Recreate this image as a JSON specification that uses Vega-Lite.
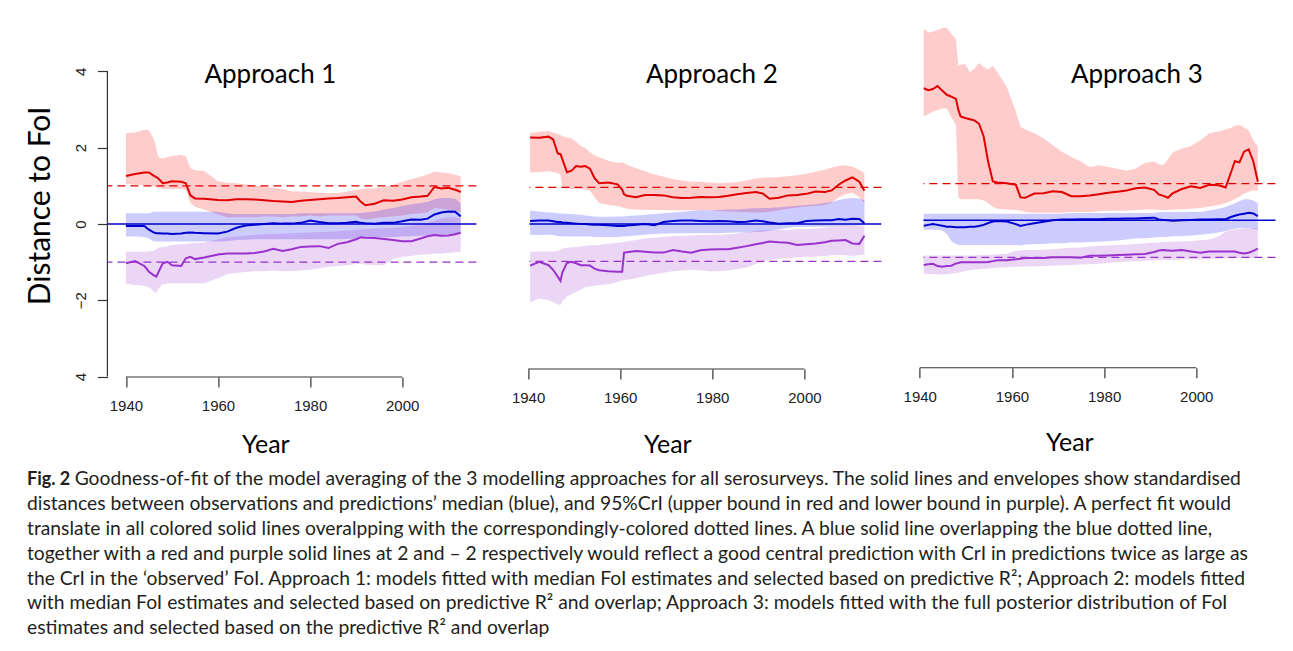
{
  "$schema": "https://vega.github.io/schema/vega-lite/v6.json",
  "background": "white",
  "padding": {"left": 25.4, "top": 20, "right": 5, "bottom": 5},
  "config": {"view": {"stroke": null}, "axis": {"grid": false, "labelFlush": false}},
  "title": {
    "text": "Fig. 2",
    "subtitle": [
      "\u200b\u00a0\u00a0\u00a0\u00a0\u00a0\u00a0\u00a0\u00a0\u00a0\u2006Goodness-of-fit of the model averaging of the 3 modelling approaches for all serosurveys. The solid lines and envelopes show standardised",
      "distances between observations and predictions’ median (blue), and 95%CrI (upper bound in red and lower bound in purple). A perfect fit would",
      "translate in all colored solid lines overalpping with the correspondingly-colored dotted lines. A blue solid line overlapping the blue dotted line,",
      "together with a red and purple solid lines at 2 and – 2 respectively would reflect a good central prediction with CrI in predictions twice as large as",
      "the CrI in the ‘observed’ FoI. Approach 1: models fitted with median FoI estimates and selected based on predictive R²; Approach 2: models fitted",
      "with median FoI estimates and selected based on predictive R² and overlap; Approach 3: models fitted with the full posterior distribution of FoI",
      "estimates and selected based on the predictive R² and overlap"
    ],
    "orient": "bottom", "anchor": "start", "frame": "bounds", "offset": 11, "dx": 1.6,
    "font": "Lato", "fontSize": 18, "fontWeight": "bold", "color": "#231f20",
    "subtitleFont": "Lato", "subtitleFontSize": 19.3, "subtitleColor": "#231f20",
    "subtitleLineHeight": 24.9, "subtitlePadding": -19
  },
  "datasets": {
    "p1": [
      {"yr":1940,"rm":1.26,"rl":1.05,"rh":2.38,"bm":-0.05,"bl":-0.33,"bh":0.28,"pm":-1.03,"pl":-1.56,"ph":-0.73},
      {"yr":1942,"rm":1.31,"rl":1.03,"rh":2.40,"bm":-0.05,"bl":-0.33,"bh":0.28,"pm":-0.97,"pl":-1.60,"ph":-0.73},
      {"yr":1944,"rm":1.35,"rl":1.02,"rh":2.47,"bm":-0.05,"bl":-0.34,"bh":0.28,"pm":-1.10,"pl":-1.62,"ph":-0.73},
      {"yr":1945,"rm":1.35,"rl":1.00,"rh":2.46,"bm":-0.15,"bl":-0.38,"bh":0.28,"pm":-1.25,"pl":-1.66,"ph":-0.72},
      {"yr":1946,"rm":1.27,"rl":0.98,"rh":2.25,"bm":-0.22,"bl":-0.45,"bh":0.32,"pm":-1.34,"pl":-1.76,"ph":-0.70},
      {"yr":1946.6,"rm":1.23,"rl":0.96,"rh":2.00,"bm":-0.24,"bl":-0.46,"bh":0.32,"pm":-1.38,"pl":-1.82,"ph":-0.66},
      {"yr":1947,"rm":1.20,"rl":0.95,"rh":1.75,"bm":-0.24,"bl":-0.46,"bh":0.32,"pm":-1.28,"pl":-1.70,"ph":-0.62},
      {"yr":1948,"rm":1.07,"rl":0.92,"rh":1.72,"bm":-0.25,"bl":-0.46,"bh":0.32,"pm":-1.03,"pl":-1.58,"ph":-0.60},
      {"yr":1949,"rm":1.09,"rl":0.92,"rh":1.75,"bm":-0.25,"bl":-0.46,"bh":0.32,"pm":-0.99,"pl":-1.56,"ph":-0.58},
      {"yr":1950,"rm":1.12,"rl":0.92,"rh":1.78,"bm":-0.26,"bl":-0.46,"bh":0.32,"pm":-1.08,"pl":-1.55,"ph":-0.55},
      {"yr":1952,"rm":1.11,"rl":0.92,"rh":1.81,"bm":-0.25,"bl":-0.46,"bh":0.32,"pm":-1.10,"pl":-1.55,"ph":-0.53},
      {"yr":1953,"rm":1.07,"rl":0.90,"rh":1.78,"bm":-0.23,"bl":-0.46,"bh":0.32,"pm":-0.90,"pl":-1.55,"ph":-0.52},
      {"yr":1954,"rm":0.75,"rl":0.55,"rh":1.46,"bm":-0.22,"bl":-0.46,"bh":0.32,"pm":-0.86,"pl":-1.55,"ph":-0.51},
      {"yr":1955,"rm":0.67,"rl":0.45,"rh":1.41,"bm":-0.23,"bl":-0.46,"bh":0.32,"pm":-0.92,"pl":-1.55,"ph":-0.50},
      {"yr":1957,"rm":0.66,"rl":0.38,"rh":1.39,"bm":-0.24,"bl":-0.46,"bh":0.32,"pm":-0.88,"pl":-1.55,"ph":-0.49},
      {"yr":1960,"rm":0.63,"rl":0.25,"rh":1.12,"bm":-0.25,"bl":-0.46,"bh":0.32,"pm":-0.80,"pl":-1.42,"ph":-0.40},
      {"yr":1962,"rm":0.62,"rl":0.18,"rh":1.08,"bm":-0.20,"bl":-0.45,"bh":0.28,"pm":-0.77,"pl":-1.32,"ph":-0.35},
      {"yr":1964,"rm":0.65,"rl":0.18,"rh":1.07,"bm":-0.10,"bl":-0.42,"bh":0.26,"pm":-0.77,"pl":-1.28,"ph":-0.33},
      {"yr":1966,"rm":0.65,"rl":0.18,"rh":1.04,"bm":-0.04,"bl":-0.41,"bh":0.26,"pm":-0.77,"pl":-1.26,"ph":-0.31},
      {"yr":1968,"rm":0.64,"rl":0.18,"rh":1.01,"bm":-0.02,"bl":-0.40,"bh":0.26,"pm":-0.76,"pl":-1.24,"ph":-0.29},
      {"yr":1970,"rm":0.62,"rl":0.20,"rh":0.98,"bm":0.00,"bl":-0.40,"bh":0.26,"pm":-0.72,"pl":-1.24,"ph":-0.27},
      {"yr":1972,"rm":0.60,"rl":0.20,"rh":0.95,"bm":0.02,"bl":-0.40,"bh":0.26,"pm":-0.65,"pl":-1.22,"ph":-0.26},
      {"yr":1974,"rm":0.59,"rl":0.18,"rh":0.92,"bm":0.01,"bl":-0.40,"bh":0.26,"pm":-0.71,"pl":-1.24,"ph":-0.25},
      {"yr":1976,"rm":0.58,"rl":0.20,"rh":0.86,"bm":0.01,"bl":-0.40,"bh":0.26,"pm":-0.66,"pl":-1.24,"ph":-0.24},
      {"yr":1978,"rm":0.61,"rl":0.20,"rh":0.85,"bm":0.03,"bl":-0.40,"bh":0.28,"pm":-0.60,"pl":-1.22,"ph":-0.23},
      {"yr":1980,"rm":0.63,"rl":0.22,"rh":0.84,"bm":0.09,"bl":-0.40,"bh":0.28,"pm":-0.59,"pl":-1.20,"ph":-0.22},
      {"yr":1982,"rm":0.65,"rl":0.20,"rh":0.82,"bm":0.05,"bl":-0.40,"bh":0.28,"pm":-0.58,"pl":-1.16,"ph":-0.21},
      {"yr":1984,"rm":0.67,"rl":0.22,"rh":0.81,"bm":0.02,"bl":-0.40,"bh":0.28,"pm":-0.63,"pl":-1.12,"ph":-0.20},
      {"yr":1986,"rm":0.68,"rl":0.22,"rh":0.81,"bm":0.02,"bl":-0.40,"bh":0.28,"pm":-0.52,"pl":-1.10,"ph":-0.19},
      {"yr":1988,"rm":0.70,"rl":0.22,"rh":0.85,"bm":0.03,"bl":-0.39,"bh":0.28,"pm":-0.48,"pl":-1.08,"ph":-0.17},
      {"yr":1990,"rm":0.72,"rl":0.22,"rh":0.89,"bm":0.06,"bl":-0.38,"bh":0.28,"pm":-0.40,"pl":-1.05,"ph":-0.15},
      {"yr":1991,"rm":0.58,"rl":0.15,"rh":0.91,"bm":0.03,"bl":-0.37,"bh":0.29,"pm":-0.35,"pl":-1.05,"ph":-0.14},
      {"yr":1992,"rm":0.49,"rl":0.12,"rh":0.93,"bm":0.02,"bl":-0.36,"bh":0.30,"pm":-0.36,"pl":-1.06,"ph":-0.13},
      {"yr":1994,"rm":0.53,"rl":0.15,"rh":0.94,"bm":0.01,"bl":-0.35,"bh":0.33,"pm":-0.37,"pl":-1.08,"ph":-0.12},
      {"yr":1996,"rm":0.62,"rl":0.18,"rh":0.97,"bm":0.03,"bl":-0.35,"bh":0.38,"pm":-0.39,"pl":-1.08,"ph":-0.11},
      {"yr":1998,"rm":0.61,"rl":0.20,"rh":1.02,"bm":0.03,"bl":-0.34,"bh":0.42,"pm":-0.42,"pl":-0.92,"ph":-0.10},
      {"yr":2000,"rm":0.64,"rl":0.22,"rh":1.11,"bm":0.07,"bl":-0.33,"bh":0.47,"pm":-0.45,"pl":-0.86,"ph":-0.08},
      {"yr":2002,"rm":0.70,"rl":0.26,"rh":1.18,"bm":0.12,"bl":-0.32,"bh":0.52,"pm":-0.45,"pl":-0.84,"ph":-0.05},
      {"yr":2004,"rm":0.72,"rl":0.28,"rh":1.24,"bm":0.11,"bl":-0.31,"bh":0.55,"pm":-0.38,"pl":-0.80,"ph":-0.02},
      {"yr":2005.5,"rm":0.74,"rl":0.30,"rh":1.30,"bm":0.14,"bl":-0.30,"bh":0.58,"pm":-0.32,"pl":-0.80,"ph":0.02},
      {"yr":2007,"rm":0.97,"rl":0.42,"rh":1.37,"bm":0.25,"bl":-0.29,"bh":0.65,"pm":-0.29,"pl":-0.78,"ph":0.10},
      {"yr":2008.5,"rm":0.93,"rl":0.40,"rh":1.35,"bm":0.30,"bl":-0.28,"bh":0.68,"pm":-0.31,"pl":-0.77,"ph":0.15},
      {"yr":2010,"rm":0.95,"rl":0.38,"rh":1.33,"bm":0.33,"bl":-0.27,"bh":0.68,"pm":-0.30,"pl":-0.76,"ph":0.18},
      {"yr":2011.5,"rm":0.90,"rl":0.35,"rh":1.29,"bm":0.32,"bl":-0.26,"bh":0.66,"pm":-0.27,"pl":-0.74,"ph":0.18},
      {"yr":2012.7,"rm":0.84,"rl":0.32,"rh":1.25,"bm":0.20,"bl":-0.25,"bh":0.55,"pm":-0.23,"pl":-0.72,"ph":0.15}
    ],
    "p2": [
      {"yr":1940,"rm":2.27,"rl":1.35,"rh":2.38,"bm":0.08,"bl":-0.28,"bh":0.35,"pm":-1.09,"pl":-2.05,"ph":-0.73},
      {"yr":1942,"rm":2.26,"rl":1.36,"rh":2.42,"bm":0.09,"bl":-0.29,"bh":0.33,"pm":-0.99,"pl":-1.95,"ph":-0.72},
      {"yr":1944,"rm":2.29,"rl":1.38,"rh":2.44,"bm":0.09,"bl":-0.28,"bh":0.30,"pm":-1.08,"pl":-2.00,"ph":-0.72},
      {"yr":1945,"rm":2.22,"rl":1.36,"rh":2.40,"bm":0.07,"bl":-0.29,"bh":0.30,"pm":-1.20,"pl":-2.05,"ph":-0.72},
      {"yr":1946,"rm":1.85,"rl":1.33,"rh":2.36,"bm":0.05,"bl":-0.32,"bh":0.28,"pm":-1.38,"pl":-2.10,"ph":-0.70},
      {"yr":1946.6,"rm":1.83,"rl":1.30,"rh":2.33,"bm":0.05,"bl":-0.32,"bh":0.28,"pm":-1.49,"pl":-2.12,"ph":-0.68},
      {"yr":1947,"rm":1.70,"rl":0.95,"rh":2.30,"bm":0.04,"bl":-0.33,"bh":0.27,"pm":-1.27,"pl":-2.02,"ph":-0.65},
      {"yr":1948,"rm":1.36,"rl":0.93,"rh":2.27,"bm":0.03,"bl":-0.33,"bh":0.27,"pm":-1.02,"pl":-1.90,"ph":-0.62},
      {"yr":1949,"rm":1.40,"rl":0.92,"rh":2.25,"bm":0.02,"bl":-0.33,"bh":0.26,"pm":-0.99,"pl":-1.84,"ph":-0.61},
      {"yr":1950,"rm":1.52,"rl":0.92,"rh":2.15,"bm":0.01,"bl":-0.33,"bh":0.25,"pm":-1.03,"pl":-1.78,"ph":-0.60},
      {"yr":1951,"rm":1.50,"rl":0.92,"rh":2.05,"bm":0.00,"bl":-0.33,"bh":0.24,"pm":-1.08,"pl":-1.72,"ph":-0.59},
      {"yr":1952,"rm":1.52,"rl":0.90,"rh":1.99,"bm":0.00,"bl":-0.33,"bh":0.22,"pm":-1.08,"pl":-1.66,"ph":-0.57},
      {"yr":1953,"rm":1.45,"rl":0.88,"rh":1.88,"bm":-0.01,"bl":-0.33,"bh":0.21,"pm":-1.09,"pl":-1.64,"ph":-0.56},
      {"yr":1954,"rm":1.20,"rl":0.70,"rh":1.80,"bm":-0.02,"bl":-0.34,"bh":0.20,"pm":-1.17,"pl":-1.62,"ph":-0.56},
      {"yr":1955,"rm":1.07,"rl":0.55,"rh":1.75,"bm":-0.02,"bl":-0.34,"bh":0.19,"pm":-1.21,"pl":-1.60,"ph":-0.55},
      {"yr":1957,"rm":1.09,"rl":0.50,"rh":1.66,"bm":-0.03,"bl":-0.34,"bh":0.19,"pm":-1.24,"pl":-1.58,"ph":-0.52},
      {"yr":1959,"rm":1.04,"rl":0.47,"rh":1.60,"bm":-0.05,"bl":-0.34,"bh":0.20,"pm":-1.25,"pl":-1.52,"ph":-0.49},
      {"yr":1960,"rm":0.90,"rl":0.43,"rh":1.62,"bm":-0.05,"bl":-0.33,"bh":0.20,"pm":-1.25,"pl":-1.48,"ph":-0.48},
      {"yr":1960.4,"rm":0.78,"rl":0.42,"rh":1.60,"bm":-0.05,"bl":-0.33,"bh":0.20,"pm":-0.75,"pl":-1.47,"ph":-0.47},
      {"yr":1961,"rm":0.74,"rl":0.40,"rh":1.55,"bm":-0.04,"bl":-0.32,"bh":0.21,"pm":-0.74,"pl":-1.46,"ph":-0.45},
      {"yr":1963,"rm":0.70,"rl":0.38,"rh":1.46,"bm":-0.02,"bl":-0.30,"bh":0.22,"pm":-0.71,"pl":-1.42,"ph":-0.42},
      {"yr":1965,"rm":0.76,"rl":0.37,"rh":1.38,"bm":0.00,"bl":-0.28,"bh":0.24,"pm":-0.73,"pl":-1.36,"ph":-0.38},
      {"yr":1967,"rm":0.76,"rl":0.37,"rh":1.30,"bm":-0.03,"bl":-0.26,"bh":0.26,"pm":-0.75,"pl":-1.32,"ph":-0.36},
      {"yr":1969,"rm":0.75,"rl":0.37,"rh":1.24,"bm":0.05,"bl":-0.25,"bh":0.28,"pm":-0.75,"pl":-1.28,"ph":-0.34},
      {"yr":1971,"rm":0.70,"rl":0.36,"rh":1.18,"bm":0.08,"bl":-0.24,"bh":0.30,"pm":-0.68,"pl":-1.24,"ph":-0.32},
      {"yr":1973,"rm":0.68,"rl":0.36,"rh":1.14,"bm":0.09,"bl":-0.24,"bh":0.32,"pm":-0.72,"pl":-1.22,"ph":-0.31},
      {"yr":1975,"rm":0.69,"rl":0.36,"rh":1.11,"bm":0.09,"bl":-0.24,"bh":0.34,"pm":-0.75,"pl":-1.20,"ph":-0.30},
      {"yr":1977,"rm":0.71,"rl":0.36,"rh":1.11,"bm":0.08,"bl":-0.24,"bh":0.36,"pm":-0.69,"pl":-1.21,"ph":-0.29},
      {"yr":1979,"rm":0.70,"rl":0.36,"rh":1.09,"bm":0.07,"bl":-0.24,"bh":0.36,"pm":-0.67,"pl":-1.24,"ph":-0.29},
      {"yr":1981,"rm":0.71,"rl":0.34,"rh":1.07,"bm":0.08,"bl":-0.24,"bh":0.37,"pm":-0.66,"pl":-1.24,"ph":-0.28},
      {"yr":1983,"rm":0.74,"rl":0.33,"rh":1.08,"bm":0.07,"bl":-0.23,"bh":0.38,"pm":-0.66,"pl":-1.22,"ph":-0.27},
      {"yr":1985,"rm":0.78,"rl":0.32,"rh":1.10,"bm":0.05,"bl":-0.22,"bh":0.38,"pm":-0.62,"pl":-1.18,"ph":-0.25},
      {"yr":1987,"rm":0.81,"rl":0.31,"rh":1.14,"bm":0.06,"bl":-0.22,"bh":0.40,"pm":-0.58,"pl":-1.14,"ph":-0.22},
      {"yr":1989,"rm":0.84,"rl":0.30,"rh":1.19,"bm":0.09,"bl":-0.21,"bh":0.41,"pm":-0.53,"pl":-1.05,"ph":-0.18},
      {"yr":1990.5,"rm":0.80,"rl":0.30,"rh":1.21,"bm":0.07,"bl":-0.20,"bh":0.42,"pm":-0.50,"pl":-0.98,"ph":-0.16},
      {"yr":1992,"rm":0.66,"rl":0.32,"rh":1.22,"bm":0.04,"bl":-0.18,"bh":0.42,"pm":-0.46,"pl":-0.94,"ph":-0.16},
      {"yr":1994,"rm":0.69,"rl":0.36,"rh":1.23,"bm":0.01,"bl":-0.14,"bh":0.44,"pm":-0.48,"pl":-0.92,"ph":-0.15},
      {"yr":1996,"rm":0.75,"rl":0.40,"rh":1.25,"bm":0.02,"bl":-0.10,"bh":0.46,"pm":-0.49,"pl":-0.90,"ph":-0.15},
      {"yr":1998,"rm":0.76,"rl":0.43,"rh":1.28,"bm":0.02,"bl":-0.08,"bh":0.48,"pm":-0.55,"pl":-0.88,"ph":-0.14},
      {"yr":2000,"rm":0.79,"rl":0.46,"rh":1.32,"bm":0.08,"bl":-0.07,"bh":0.50,"pm":-0.53,"pl":-0.86,"ph":-0.14},
      {"yr":2002,"rm":0.85,"rl":0.48,"rh":1.37,"bm":0.09,"bl":-0.07,"bh":0.52,"pm":-0.51,"pl":-0.85,"ph":-0.12},
      {"yr":2004,"rm":0.84,"rl":0.50,"rh":1.42,"bm":0.10,"bl":-0.07,"bh":0.55,"pm":-0.48,"pl":-0.84,"ph":-0.10},
      {"yr":2005.5,"rm":0.88,"rl":0.56,"rh":1.48,"bm":0.10,"bl":-0.07,"bh":0.58,"pm":-0.44,"pl":-0.82,"ph":-0.08},
      {"yr":2007,"rm":1.03,"rl":0.70,"rh":1.53,"bm":0.13,"bl":-0.06,"bh":0.63,"pm":-0.43,"pl":-0.81,"ph":-0.06},
      {"yr":2008.5,"rm":1.14,"rl":0.78,"rh":1.54,"bm":0.11,"bl":-0.05,"bh":0.66,"pm":-0.42,"pl":-0.82,"ph":-0.05},
      {"yr":2010,"rm":1.22,"rl":0.82,"rh":1.50,"bm":0.14,"bl":-0.05,"bh":0.68,"pm":-0.51,"pl":-0.84,"ph":-0.05},
      {"yr":2011.5,"rm":1.11,"rl":0.70,"rh":1.42,"bm":0.13,"bl":-0.04,"bh":0.67,"pm":-0.52,"pl":-0.82,"ph":-0.05},
      {"yr":2012.6,"rm":0.87,"rl":0.55,"rh":1.33,"bm":0.02,"bl":-0.03,"bh":0.62,"pm":-0.31,"pl":-0.80,"ph":-0.05}
    ],
    "p3": [
      {"yr":1940,"rm":3.46,"rl":2.72,"rh":5.03,"bm":-0.14,"bl":-0.25,"bh":0.17,"pm":-1.17,"pl":-1.40,"ph":-0.92},
      {"yr":1941,"rm":3.41,"rl":2.78,"rh":4.92,"bm":-0.12,"bl":-0.25,"bh":0.17,"pm":-1.15,"pl":-1.41,"ph":-0.92},
      {"yr":1942,"rm":3.44,"rl":2.85,"rh":4.95,"bm":-0.10,"bl":-0.25,"bh":0.17,"pm":-1.14,"pl":-1.41,"ph":-0.92},
      {"yr":1943,"rm":3.52,"rl":2.89,"rh":4.99,"bm":-0.12,"bl":-0.25,"bh":0.17,"pm":-1.20,"pl":-1.42,"ph":-0.92},
      {"yr":1944,"rm":3.40,"rl":2.93,"rh":5.04,"bm":-0.14,"bl":-0.27,"bh":0.17,"pm":-1.22,"pl":-1.42,"ph":-0.92},
      {"yr":1945,"rm":3.29,"rl":2.93,"rh":5.05,"bm":-0.17,"bl":-0.35,"bh":0.17,"pm":-1.20,"pl":-1.41,"ph":-0.92},
      {"yr":1946,"rm":3.24,"rl":2.70,"rh":4.88,"bm":-0.17,"bl":-0.55,"bh":0.17,"pm":-1.19,"pl":-1.40,"ph":-0.92},
      {"yr":1947,"rm":3.18,"rl":2.50,"rh":4.75,"bm":-0.18,"bl":-0.62,"bh":0.17,"pm":-1.13,"pl":-1.38,"ph":-0.92},
      {"yr":1947.5,"rm":2.90,"rl":0.60,"rh":4.05,"bm":-0.18,"bl":-0.64,"bh":0.17,"pm":-1.12,"pl":-1.37,"ph":-0.92},
      {"yr":1948,"rm":2.72,"rl":0.55,"rh":4.08,"bm":-0.18,"bl":-0.65,"bh":0.17,"pm":-1.10,"pl":-1.36,"ph":-0.92},
      {"yr":1949,"rm":2.68,"rl":0.55,"rh":4.10,"bm":-0.18,"bl":-0.65,"bh":0.17,"pm":-1.10,"pl":-1.33,"ph":-0.92},
      {"yr":1950,"rm":2.65,"rl":0.55,"rh":3.88,"bm":-0.17,"bl":-0.65,"bh":0.17,"pm":-1.10,"pl":-1.30,"ph":-0.92},
      {"yr":1951,"rm":2.62,"rl":0.55,"rh":3.98,"bm":-0.17,"bl":-0.65,"bh":0.17,"pm":-1.10,"pl":-1.29,"ph":-0.92},
      {"yr":1952,"rm":2.53,"rl":0.55,"rh":4.12,"bm":-0.15,"bl":-0.65,"bh":0.17,"pm":-1.10,"pl":-1.28,"ph":-0.91},
      {"yr":1953,"rm":2.20,"rl":0.52,"rh":4.02,"bm":-0.12,"bl":-0.65,"bh":0.17,"pm":-1.10,"pl":-1.27,"ph":-0.91},
      {"yr":1954,"rm":1.52,"rl":0.45,"rh":3.95,"bm":-0.07,"bl":-0.65,"bh":0.17,"pm":-1.09,"pl":-1.26,"ph":-0.91},
      {"yr":1955,"rm":1.02,"rl":0.35,"rh":4.05,"bm":-0.03,"bl":-0.65,"bh":0.17,"pm":-1.07,"pl":-1.25,"ph":-0.90},
      {"yr":1956,"rm":0.99,"rl":0.30,"rh":3.88,"bm":-0.02,"bl":-0.65,"bh":0.17,"pm":-1.05,"pl":-1.24,"ph":-0.89},
      {"yr":1958,"rm":0.97,"rl":0.28,"rh":3.50,"bm":-0.03,"bl":-0.65,"bh":0.17,"pm":-1.05,"pl":-1.23,"ph":-0.88},
      {"yr":1960,"rm":0.93,"rl":0.27,"rh":2.85,"bm":-0.10,"bl":-0.65,"bh":0.17,"pm":-1.02,"pl":-1.22,"ph":-0.80},
      {"yr":1961,"rm":0.60,"rl":0.25,"rh":2.45,"bm":-0.15,"bl":-0.66,"bh":0.17,"pm":-1.01,"pl":-1.22,"ph":-0.79},
      {"yr":1962,"rm":0.59,"rl":0.22,"rh":2.38,"bm":-0.12,"bl":-0.64,"bh":0.17,"pm":-0.99,"pl":-1.21,"ph":-0.78},
      {"yr":1964,"rm":0.70,"rl":0.20,"rh":2.28,"bm":-0.08,"bl":-0.62,"bh":0.17,"pm":-0.99,"pl":-1.21,"ph":-0.78},
      {"yr":1966,"rm":0.71,"rl":0.20,"rh":2.15,"bm":-0.04,"bl":-0.62,"bh":0.17,"pm":-0.99,"pl":-1.20,"ph":-0.77},
      {"yr":1968,"rm":0.76,"rl":0.20,"rh":1.97,"bm":0.00,"bl":-0.60,"bh":0.17,"pm":-0.97,"pl":-1.19,"ph":-0.75},
      {"yr":1970,"rm":0.74,"rl":0.20,"rh":1.80,"bm":0.02,"bl":-0.60,"bh":0.17,"pm":-0.97,"pl":-1.18,"ph":-0.74},
      {"yr":1972,"rm":0.63,"rl":0.22,"rh":1.66,"bm":0.02,"bl":-0.58,"bh":0.19,"pm":-0.97,"pl":-1.17,"ph":-0.72},
      {"yr":1974,"rm":0.63,"rl":0.22,"rh":1.55,"bm":0.03,"bl":-0.58,"bh":0.19,"pm":-0.98,"pl":-1.16,"ph":-0.71},
      {"yr":1976,"rm":0.65,"rl":0.22,"rh":1.40,"bm":0.03,"bl":-0.57,"bh":0.19,"pm":-0.93,"pl":-1.15,"ph":-0.69},
      {"yr":1978,"rm":0.68,"rl":0.24,"rh":1.44,"bm":0.03,"bl":-0.56,"bh":0.19,"pm":-0.93,"pl":-1.14,"ph":-0.67},
      {"yr":1980,"rm":0.72,"rl":0.25,"rh":1.40,"bm":0.04,"bl":-0.55,"bh":0.19,"pm":-0.92,"pl":-1.12,"ph":-0.66},
      {"yr":1982,"rm":0.75,"rl":0.25,"rh":1.35,"bm":0.04,"bl":-0.53,"bh":0.19,"pm":-0.91,"pl":-1.10,"ph":-0.65},
      {"yr":1984,"rm":0.78,"rl":0.26,"rh":1.30,"bm":0.05,"bl":-0.50,"bh":0.19,"pm":-0.90,"pl":-1.08,"ph":-0.64},
      {"yr":1986,"rm":0.84,"rl":0.27,"rh":1.36,"bm":0.05,"bl":-0.48,"bh":0.19,"pm":-0.89,"pl":-1.07,"ph":-0.62},
      {"yr":1988,"rm":0.86,"rl":0.28,"rh":1.50,"bm":0.06,"bl":-0.47,"bh":0.19,"pm":-0.88,"pl":-1.06,"ph":-0.60},
      {"yr":1990,"rm":0.80,"rl":0.28,"rh":1.55,"bm":0.07,"bl":-0.45,"bh":0.19,"pm":-0.83,"pl":-1.05,"ph":-0.58},
      {"yr":1991,"rm":0.68,"rl":0.27,"rh":1.47,"bm":0.02,"bl":-0.44,"bh":0.21,"pm":-0.79,"pl":-1.05,"ph":-0.58},
      {"yr":1992,"rm":0.64,"rl":0.27,"rh":1.45,"bm":0.01,"bl":-0.44,"bh":0.22,"pm":-0.78,"pl":-1.04,"ph":-0.57},
      {"yr":1993,"rm":0.59,"rl":0.27,"rh":1.60,"bm":0.00,"bl":-0.43,"bh":0.22,"pm":-0.79,"pl":-1.04,"ph":-0.57},
      {"yr":1994,"rm":0.71,"rl":0.28,"rh":1.78,"bm":-0.01,"bl":-0.42,"bh":0.22,"pm":-0.80,"pl":-1.04,"ph":-0.56},
      {"yr":1996,"rm":0.82,"rl":0.29,"rh":1.88,"bm":0.00,"bl":-0.42,"bh":0.22,"pm":-0.78,"pl":-1.03,"ph":-0.55},
      {"yr":1998,"rm":0.89,"rl":0.30,"rh":1.95,"bm":0.01,"bl":-0.40,"bh":0.22,"pm":-0.82,"pl":-1.02,"ph":-0.54},
      {"yr":2000,"rm":0.85,"rl":0.32,"rh":2.10,"bm":0.02,"bl":-0.38,"bh":0.22,"pm":-0.85,"pl":-1.02,"ph":-0.52},
      {"yr":2002,"rm":0.93,"rl":0.36,"rh":2.28,"bm":0.02,"bl":-0.35,"bh":0.26,"pm":-0.82,"pl":-1.01,"ph":-0.50},
      {"yr":2004,"rm":0.92,"rl":0.40,"rh":2.33,"bm":0.03,"bl":-0.32,"bh":0.30,"pm":-0.82,"pl":-1.00,"ph":-0.42},
      {"yr":2005.5,"rm":0.86,"rl":0.45,"rh":2.38,"bm":0.03,"bl":-0.28,"bh":0.35,"pm":-0.82,"pl":-1.00,"ph":-0.30},
      {"yr":2006.5,"rm":1.20,"rl":0.50,"rh":2.41,"bm":0.08,"bl":-0.25,"bh":0.40,"pm":-0.82,"pl":-0.99,"ph":-0.26},
      {"yr":2007.5,"rm":1.55,"rl":0.56,"rh":2.48,"bm":0.12,"bl":-0.22,"bh":0.45,"pm":-0.82,"pl":-0.99,"ph":-0.24},
      {"yr":2008.5,"rm":1.52,"rl":0.62,"rh":2.50,"bm":0.15,"bl":-0.20,"bh":0.50,"pm":-0.85,"pl":-0.98,"ph":-0.22},
      {"yr":2009.5,"rm":1.80,"rl":0.70,"rh":2.44,"bm":0.17,"bl":-0.20,"bh":0.55,"pm":-0.87,"pl":-0.98,"ph":-0.21},
      {"yr":2010.5,"rm":1.86,"rl":0.75,"rh":2.36,"bm":0.20,"bl":-0.20,"bh":0.55,"pm":-0.85,"pl":-0.98,"ph":-0.20},
      {"yr":2011.5,"rm":1.55,"rl":0.78,"rh":2.10,"bm":0.18,"bl":-0.22,"bh":0.52,"pm":-0.80,"pl":-0.98,"ph":-0.20},
      {"yr":2012.5,"rm":1.01,"rl":0.78,"rh":1.93,"bm":0.11,"bl":-0.25,"bh":0.45,"pm":-0.74,"pl":-0.98,"ph":-0.20}
    ]
  },
  "bounds": "flush",
  "spacing": 53,
  "hconcat": [
    {
      "width": 369, "height": 357,
      "data": {"name": "p1"},
      "layer": [
        {"mark": {"type": "area", "color": "#ff0000", "opacity": 0.2},
         "encoding": {
           "x": {"field": "yr", "type": "quantitative", "scale": {"domain": [1935.98, 2016.11], "nice": false, "zero": false},
                 "axis": {"values": [1940, 1960, 1980, 2000], "format": "d", "domain": false, "tickSize": 10, "tickColor": "#333333", "tickWidth": 1.2, "labelFont": "Liberation Sans", "labelFontSize": 15, "labelColor": "#222222", "labelPadding": 12, "title": "Year", "titleFont": "Lato", "titleFontSize": 25, "titleFontWeight": "normal", "titleColor": "#000000", "titleX": 158, "titleY": 76, "titleBaseline": "alphabetic", "titleAlign": "center"}},
           "y": {"field": "rl", "type": "quantitative", "scale": {"domain": [-4.01, 5.347], "nice": false, "zero": false},
                 "axis": {"values": [-4, -2, 0, 2, 4], "domain": false, "tickSize": 10, "tickColor": "#333333", "tickWidth": 1.2, "labelFont": "Liberation Sans", "labelFontSize": 15, "labelColor": "#222222", "labelAngle": 270, "labelPadding": 9, "labelExpr": "datum.value == -4 ? '4' : datum.label", "title": "Distance to FoI", "titleFont": "Lato", "titleFontSize": 30, "titleFontWeight": "normal", "titleColor": "#000000", "titleAngle": 270, "titleX": -58, "titleY": 185.5, "titleBaseline": "alphabetic", "titleAlign": "center"}},
           "y2": {"field": "rh"}
         }},
        {"mark": {"type": "area", "color": "#0000ff", "opacity": 0.2},
         "encoding": {"x": {"field": "yr", "type": "quantitative"}, "y": {"field": "bl", "type": "quantitative"}, "y2": {"field": "bh"}}},
        {"mark": {"type": "area", "color": "#9932cc", "opacity": 0.2},
         "encoding": {"x": {"field": "yr", "type": "quantitative"}, "y": {"field": "pl", "type": "quantitative"}, "y2": {"field": "ph"}}},
        {"data": {"values": [{}]}, "mark": {"type": "rule", "color": "#0000cd", "strokeWidth": 1.5},
         "encoding": {"y": {"datum": 0}}},
        {"data": {"values": [{}]}, "mark": {"type": "rule", "color": "#e00000", "strokeWidth": 1.3, "strokeDash": [8, 5]},
         "encoding": {"y": {"datum": 1.0}}},
        {"data": {"values": [{}]}, "mark": {"type": "rule", "color": "#9a32cd", "strokeWidth": 1.3, "strokeDash": [8, 5]},
         "encoding": {"y": {"datum": -1.0}}},
        {"mark": {"type": "line", "color": "#e00000", "strokeWidth": 2},
         "encoding": {"x": {"field": "yr", "type": "quantitative"}, "y": {"field": "rm", "type": "quantitative"}}},
        {"mark": {"type": "line", "color": "#0000cd", "strokeWidth": 2},
         "encoding": {"x": {"field": "yr", "type": "quantitative"}, "y": {"field": "bm", "type": "quantitative"}}},
        {"mark": {"type": "line", "color": "#9a32cd", "strokeWidth": 2},
         "encoding": {"x": {"field": "yr", "type": "quantitative"}, "y": {"field": "pm", "type": "quantitative"}}},
        {"data": {"values": [{}]}, "mark": {"type": "rule", "color": "#333333", "strokeWidth": 1.2},
         "encoding": {"x": {"datum": 1940}, "x2": {"datum": 2000}, "y": {"datum": -4.01}}},
        {"data": {"values": [{}]}, "mark": {"type": "rule", "color": "#333333", "strokeWidth": 1.2},
         "encoding": {"x": {"datum": 1935.98}, "y": {"datum": -4}, "y2": {"datum": 4}}},
        {"data": {"values": [{"t": "Approach 1"}]}, "mark": {"type": "text", "font": "Lato", "fontSize": 26, "color": "#000000", "baseline": "alphabetic"},
         "encoding": {"x": {"datum": 1971.38}, "y": {"datum": 3.69}, "text": {"field": "t"}}}
      ]
    },
    {
      "bounds": "flush",
      "spacing": 42,
      "hconcat": [
        {
          "width": 352, "height": 357,
          "data": {"name": "p2"},
          "layer": [
            {"mark": {"type": "area", "color": "#ff0000", "opacity": 0.2},
             "encoding": {
               "x": {"field": "yr", "type": "quantitative", "scale": {"domain": [1939.85, 2016.29], "nice": false, "zero": false},
                     "axis": {"values": [1940, 1960, 1980, 2000], "format": "d", "domain": false, "offset": -6, "translate": -1.5, "tickSize": 10, "tickColor": "#333333", "tickWidth": 1.2, "labelFont": "Liberation Sans", "labelFontSize": 15, "labelColor": "#222222", "labelPadding": 12, "title": "Year", "titleFont": "Lato", "titleFontSize": 25, "titleFontWeight": "normal", "titleColor": "#000000", "titleX": 140, "titleY": 84, "titleBaseline": "alphabetic", "titleAlign": "center"}},
               "y": {"field": "rl", "type": "quantitative", "scale": {"domain": [-4.01, 5.347], "nice": false, "zero": false}, "axis": null},
               "y2": {"field": "rh"}
             }},
            {"mark": {"type": "area", "color": "#0000ff", "opacity": 0.2},
             "encoding": {"x": {"field": "yr", "type": "quantitative"}, "y": {"field": "bl", "type": "quantitative"}, "y2": {"field": "bh"}}},
            {"mark": {"type": "area", "color": "#9932cc", "opacity": 0.2},
             "encoding": {"x": {"field": "yr", "type": "quantitative"}, "y": {"field": "pl", "type": "quantitative"}, "y2": {"field": "ph"}}},
            {"data": {"values": [{}]}, "mark": {"type": "rule", "color": "#0000cd", "strokeWidth": 1.5},
             "encoding": {"y": {"datum": 0}}},
            {"data": {"values": [{}]}, "mark": {"type": "rule", "color": "#e00000", "strokeWidth": 1.3, "strokeDash": [8, 5]},
             "encoding": {"y": {"datum": 0.96}}},
            {"data": {"values": [{}]}, "mark": {"type": "rule", "color": "#9a32cd", "strokeWidth": 1.3, "strokeDash": [8, 5]},
             "encoding": {"y": {"datum": -0.98}}},
            {"mark": {"type": "line", "color": "#e00000", "strokeWidth": 2},
             "encoding": {"x": {"field": "yr", "type": "quantitative"}, "y": {"field": "rm", "type": "quantitative"}}},
            {"mark": {"type": "line", "color": "#0000cd", "strokeWidth": 2},
             "encoding": {"x": {"field": "yr", "type": "quantitative"}, "y": {"field": "bm", "type": "quantitative"}}},
            {"mark": {"type": "line", "color": "#9a32cd", "strokeWidth": 2},
             "encoding": {"x": {"field": "yr", "type": "quantitative"}, "y": {"field": "pm", "type": "quantitative"}}},
            {"data": {"values": [{}]}, "mark": {"type": "rule", "color": "#333333", "strokeWidth": 1.2},
             "encoding": {"x": {"datum": 1939.57}, "x2": {"datum": 1999.57}, "y": {"datum": -3.80}}},
            {"data": {"values": [{"t": "Approach 2"}]}, "mark": {"type": "text", "font": "Lato", "fontSize": 26, "color": "#000000", "baseline": "alphabetic"},
             "encoding": {"x": {"datum": 1979.48}, "y": {"datum": 3.69}, "text": {"field": "t"}}}
          ]
        },
        {
          "width": 352, "height": 357,
          "data": {"name": "p3"},
          "layer": [
            {"mark": {"type": "area", "color": "#ff0000", "opacity": 0.2},
             "encoding": {
               "x": {"field": "yr", "type": "quantitative", "scale": {"domain": [1939.93, 2016.3], "nice": false, "zero": false},
                     "axis": {"values": [1940, 1960, 1980, 2000], "format": "d", "domain": false, "offset": -5.3, "translate": -3.5, "tickSize": 10, "tickColor": "#333333", "tickWidth": 1.2, "labelFont": "Liberation Sans", "labelFontSize": 15, "labelColor": "#222222", "labelPadding": 12, "title": "Year", "titleFont": "Lato", "titleFontSize": 25, "titleFontWeight": "normal", "titleColor": "#000000", "titleX": 150, "titleY": 83, "titleBaseline": "alphabetic", "titleAlign": "center"}},
               "y": {"field": "rl", "type": "quantitative", "scale": {"domain": [-4.107, 5.25], "nice": false, "zero": false}, "axis": null},
               "y2": {"field": "rh"}
             }},
            {"mark": {"type": "area", "color": "#0000ff", "opacity": 0.2},
             "encoding": {"x": {"field": "yr", "type": "quantitative"}, "y": {"field": "bl", "type": "quantitative"}, "y2": {"field": "bh"}}},
            {"mark": {"type": "area", "color": "#9932cc", "opacity": 0.2},
             "encoding": {"x": {"field": "yr", "type": "quantitative"}, "y": {"field": "pl", "type": "quantitative"}, "y2": {"field": "ph"}}},
            {"data": {"values": [{}]}, "mark": {"type": "rule", "color": "#0000cd", "strokeWidth": 1.5},
             "encoding": {"y": {"datum": 0}}},
            {"data": {"values": [{}]}, "mark": {"type": "rule", "color": "#e00000", "strokeWidth": 1.3, "strokeDash": [8, 5]},
             "encoding": {"y": {"datum": 0.96}}},
            {"data": {"values": [{}]}, "mark": {"type": "rule", "color": "#9a32cd", "strokeWidth": 1.3, "strokeDash": [8, 5]},
             "encoding": {"y": {"datum": -0.97}}},
            {"mark": {"type": "line", "color": "#e00000", "strokeWidth": 2},
             "encoding": {"x": {"field": "yr", "type": "quantitative"}, "y": {"field": "rm", "type": "quantitative"}}},
            {"mark": {"type": "line", "color": "#0000cd", "strokeWidth": 2},
             "encoding": {"x": {"field": "yr", "type": "quantitative"}, "y": {"field": "bm", "type": "quantitative"}}},
            {"mark": {"type": "line", "color": "#9a32cd", "strokeWidth": 2},
             "encoding": {"x": {"field": "yr", "type": "quantitative"}, "y": {"field": "pm", "type": "quantitative"}}},
            {"data": {"values": [{}]}, "mark": {"type": "rule", "color": "#333333", "strokeWidth": 1.2},
             "encoding": {"x": {"datum": 1939.13}, "x2": {"datum": 1999.13}, "y": {"datum": -3.864}}},
            {"data": {"values": [{"t": "Approach 3"}]}, "mark": {"type": "text", "font": "Lato", "fontSize": 26, "color": "#000000", "baseline": "alphabetic"},
             "encoding": {"x": {"datum": 1986.25}, "y": {"datum": 3.59}, "text": {"field": "t"}}}
          ]
        }
      ]
    }
  ]
}
